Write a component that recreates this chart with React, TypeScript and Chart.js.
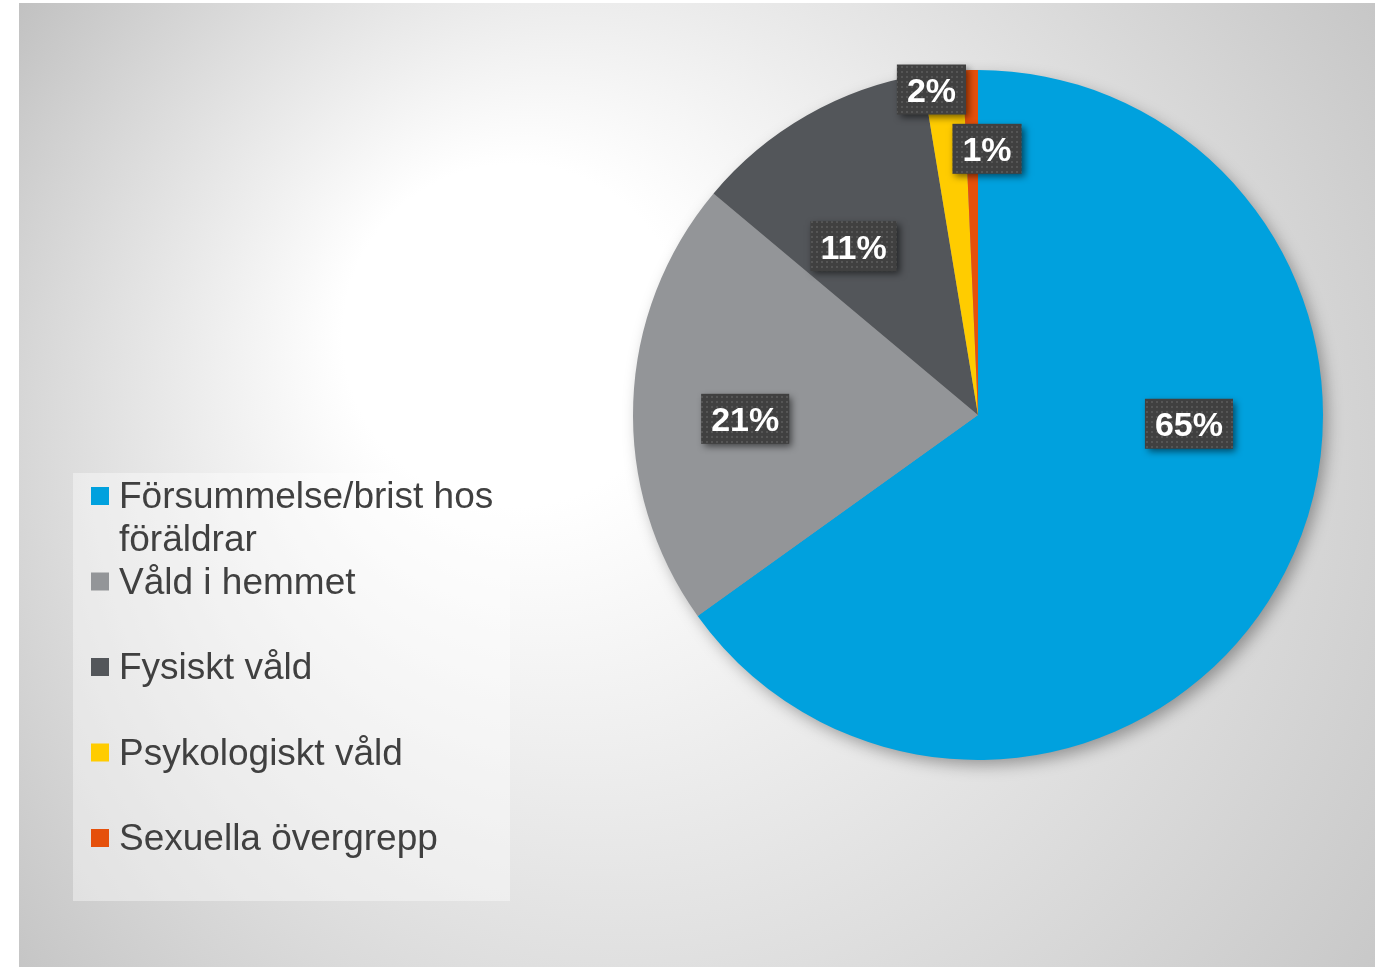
import React, { useEffect, useRef } from 'react';
import { Chart, registerables } from 'chart.js';

Chart.register(...registerables);

// ---- data ----
const categories = [
  'Försummelse/brist hos föräldrar',
  'Våld i hemmet',
  'Fysiskt våld',
  'Psykologiskt våld',
  'Sexuella övergrepp',
];
const values = [65.1, 21.0, 11.3, 1.9, 0.7];
const colors = ['#00A1DE', '#939598', '#53565A', '#FFCC00', '#E5500B'];

// ---- label placement (best-fit like offsets relative to each slice) ----
const labelAngleShift = [-24.8, -3.1, -6.7, -2.2, 3.2];
const labelRadiusFrac = [0.612, 0.675, 0.608, 0.953, 0.772];

const FONT = 'Arial, "Liberation Sans", Helvetica, sans-serif';

function makeDotPattern(ctx: CanvasRenderingContext2D) {
  const c = document.createElement('canvas');
  c.width = 5;
  c.height = 5;
  const p = c.getContext('2d')!;
  p.fillStyle = 'rgba(255,255,255,0.11)';
  p.fillRect(1, 1, 2, 2);
  return ctx.createPattern(c, 'repeat');
}

const backgroundPlugin = {
  id: 'bgPlugin',
  beforeDraw(chart: any) {
    const ctx = chart.ctx as CanvasRenderingContext2D;
    ctx.save();
    const g = ctx.createRadialGradient(460, 290, 0, 760, 540, 950);
    g.addColorStop(0, '#ffffff');
    g.addColorStop(0.18, '#ffffff');
    g.addColorStop(1, '#bcbcbc');
    ctx.fillStyle = g;
    ctx.fillRect(19, 3, 1356, 964);
    // legend box
    ctx.fillStyle = 'rgba(255,255,255,0.4)';
    ctx.fillRect(73, 473, 437, 428);
    ctx.restore();
  },
};

const pieShadowPlugin = {
  id: 'pieShadow',
  beforeDatasetsDraw(chart: any) {
    const arc = chart.getDatasetMeta(0).data[0];
    if (!arc) return;
    const { x, y, outerRadius } = arc.getProps(['x', 'y', 'outerRadius'], true);
    const ctx = chart.ctx as CanvasRenderingContext2D;
    ctx.save();
    ctx.shadowColor = 'rgba(0,0,0,0.35)';
    ctx.shadowBlur = 16;
    ctx.shadowOffsetX = 5;
    ctx.shadowOffsetY = 6;
    ctx.beginPath();
    ctx.arc(x, y, outerRadius - 1, 0, Math.PI * 2);
    ctx.fillStyle = '#999';
    ctx.fill();
    ctx.restore();
  },
};

const labelPlugin = {
  id: 'sliceLabels',
  afterDatasetsDraw(chart: any) {
    const ctx = chart.ctx as CanvasRenderingContext2D;
    const meta = chart.getDatasetMeta(0);
    const data = chart.data.datasets[0].data as number[];
    const total = data.reduce((a, b) => a + b, 0);
    const pattern = makeDotPattern(ctx);
    meta.data.forEach((arc: any, i: number) => {
      const { x, y, startAngle, endAngle, outerRadius } = arc.getProps(
        ['x', 'y', 'startAngle', 'endAngle', 'outerRadius'],
        true
      );
      const mid = (startAngle + endAngle) / 2 + (labelAngleShift[i] * Math.PI) / 180;
      const r = outerRadius * labelRadiusFrac[i];
      const cx = x + r * Math.cos(mid);
      const cy = y + r * Math.sin(mid);
      const text = Math.round((data[i] / total) * 100) + '%';
      ctx.save();
      ctx.font = `bold 34px ${FONT}`;
      const tw = ctx.measureText(text).width;
      const bw = tw + 20;
      const bh = 50;
      const bx = cx - bw / 2;
      const by = cy - bh / 2;
      ctx.shadowColor = 'rgba(0,0,0,0.55)';
      ctx.shadowBlur = 7;
      ctx.shadowOffsetX = 3;
      ctx.shadowOffsetY = 3;
      ctx.fillStyle = '#404040';
      ctx.fillRect(bx, by, bw, bh);
      ctx.shadowColor = 'transparent';
      ctx.shadowBlur = 0;
      ctx.shadowOffsetX = 0;
      ctx.shadowOffsetY = 0;
      if (pattern) {
        ctx.fillStyle = pattern;
        ctx.fillRect(bx, by, bw, bh);
      }
      ctx.fillStyle = '#ffffff';
      ctx.textAlign = 'center';
      ctx.textBaseline = 'alphabetic';
      ctx.fillText(text, cx, cy + 12.5);
      ctx.restore();
    });
  },
};

const legendPlugin = {
  id: 'customLegend',
  afterDraw(chart: any) {
    const ctx = chart.ctx as CanvasRenderingContext2D;
    const labels = chart.data.labels as string[];
    const bg = chart.data.datasets[0].backgroundColor as string[];
    const fontSize = 37;
    const lineH = 42.75;
    const slotH = lineH * 2;
    const textX = 119;
    const maxW = 388;
    ctx.save();
    ctx.font = `${fontSize}px ${FONT}`;
    ctx.textAlign = 'left';
    ctx.textBaseline = 'alphabetic';
    labels.forEach((label, i) => {
      const firstCenter = 495 + i * slotH;
      const words = label.split(' ');
      const lines: string[] = [];
      let cur = '';
      words.forEach((w) => {
        const test = cur ? cur + ' ' + w : w;
        if (ctx.measureText(test).width > maxW && cur) {
          lines.push(cur);
          cur = w;
        } else cur = test;
      });
      if (cur) lines.push(cur);
      ctx.fillStyle = bg[i];
      ctx.fillRect(91, firstCenter - 8, 18, 18);
      ctx.fillStyle = '#404040';
      lines.forEach((ln, j) => {
        ctx.fillText(ln, textX, firstCenter + j * lineH + 13.2);
      });
    });
    ctx.restore();
  },
};

export default function App() {
  const ref = useRef<HTMLCanvasElement | null>(null);
  useEffect(() => {
    if (!ref.current) return;
    const chart = new Chart(ref.current, {
      type: 'pie',
      data: {
        labels: categories,
        datasets: [
          {
            data: values,
            backgroundColor: colors,
            borderWidth: 0,
          },
        ],
      },
      options: {
        responsive: false,
        animation: false,
        devicePixelRatio: 1,
        events: [],
        layout: { padding: { left: 633, right: 52, top: 70, bottom: 207 } },
        plugins: {
          legend: { display: false },
          tooltip: { enabled: false },
        },
      },
      plugins: [backgroundPlugin, pieShadowPlugin, labelPlugin, legendPlugin],
    });
    return () => chart.destroy();
  }, []);
  return (
    <div style={{ position: 'absolute', left: 0, top: 0, width: 1375, height: 967 }}>
      <canvas ref={ref} width={1375} height={967} style={{ display: 'block', width: 1375, height: 967 }} />
    </div>
  );
}
